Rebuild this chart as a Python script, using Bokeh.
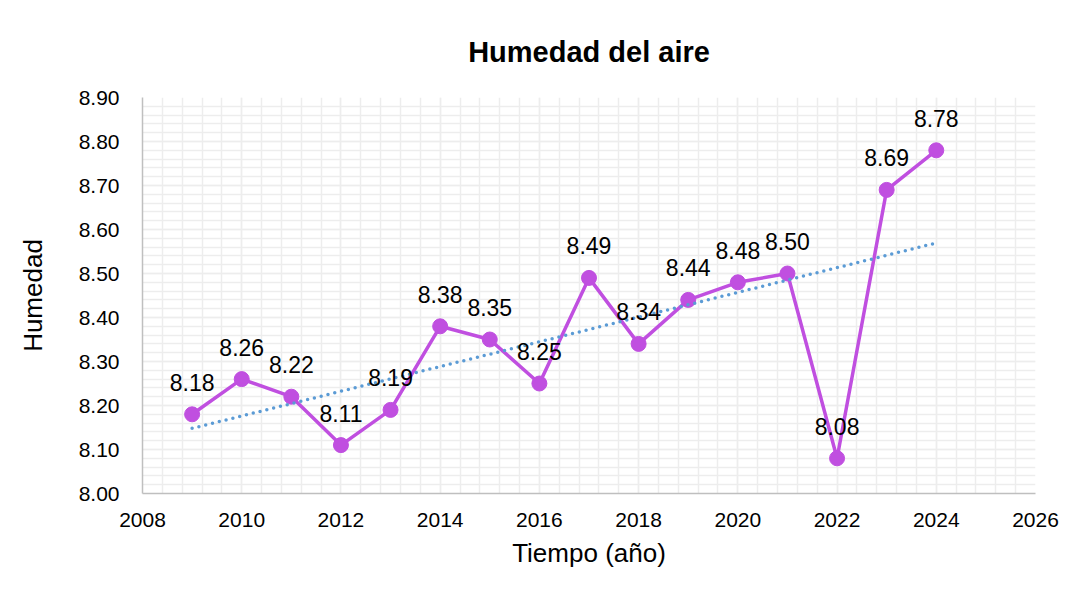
import numpy as np
from bokeh.plotting import figure
from bokeh.models import ColumnDataSource, PrintfTickFormatter, SingleIntervalTicker, Title
from bokeh.core.properties import value
from bokeh.embed import file_html
from bokeh.resources import INLINE

years = [2009, 2010, 2011, 2012, 2013, 2014, 2015, 2016, 2017, 2018, 2019, 2020, 2021, 2022, 2023, 2024]
humedad = [8.18, 8.26, 8.22, 8.11, 8.19, 8.38, 8.35, 8.25, 8.49, 8.34, 8.44, 8.48, 8.50, 8.08, 8.69, 8.78]
labels = ["%.2f" % v for v in humedad]

coef = np.polyfit(years, humedad, 1)
trend_x = [years[0], years[-1]]
trend_y = [float(np.polyval(coef, x)) for x in trend_x]

FONT = "Liberation Sans"

p = figure(width=1068, height=589, output_backend="svg", toolbar_location=None,
           x_range=(2008, 2026), y_range=(8.0, 8.9),
           frame_width=893, frame_height=396,
           min_border_left=142, min_border_right=33, min_border_top=97, min_border_bottom=96)
p.background_fill_color = "white"
p.border_fill_color = "white"
p.outline_line_color = None

p.add_layout(Title(text="Humedad del aire", align="center", text_font=FONT,
                   text_font_size="29px", text_font_style="bold", text_color="#000000",
                   standoff=59), "above")

p.xaxis.ticker = SingleIntervalTicker(interval=2, num_minor_ticks=5)
p.yaxis.ticker = SingleIntervalTicker(interval=0.1, num_minor_ticks=5)
p.xaxis.formatter = PrintfTickFormatter(format="%d")
p.yaxis.formatter = PrintfTickFormatter(format="%.2f")

for ax in (p.xaxis, p.yaxis):
    ax.major_tick_line_color = None
    ax.minor_tick_line_color = None
    ax.axis_line_color = "#bfbfbf"
    ax.axis_line_width = 1.5
    ax.major_label_text_font = FONT
    ax.major_label_text_font_size = "21px"
    ax.major_label_text_color = "#000000"
    ax.axis_label_text_font = FONT
    ax.axis_label_text_font_size = "26px"
    ax.axis_label_text_font_style = "normal"
    ax.axis_label_text_color = "#000000"

p.xaxis.axis_label = "Tiempo (año)"
p.yaxis.axis_label = "Humedad"
p.xaxis.major_label_standoff = 13
p.yaxis.major_label_standoff = 17
p.xaxis.axis_label_standoff = 8
p.yaxis.axis_label_standoff = 28

for g in (p.xgrid, p.ygrid):
    g.grid_line_color = "#ededed"
    g.grid_line_width = 1.5
    g.minor_grid_line_color = "#ededed"
    g.minor_grid_line_width = 1.5

src = ColumnDataSource(dict(x=years, y=humedad, lab=labels))

p.line("x", "y", source=src, line_color="#C04FE0", line_width=3.5)
p.scatter("x", "y", source=src, size=15, fill_color="#C04FE0", line_color="#C04FE0")
p.line(trend_x, trend_y, line_color="#5B9BD5", line_width=3.5, line_dash="0 7", line_cap="round")
p.text("x", "y", text="lab", source=src, text_font=value(FONT), text_font_size="23px",
       text_color="#000000", text_align="center", text_baseline="middle", y_offset=-32)

open("out.html", "w").write(file_html(p, INLINE))
